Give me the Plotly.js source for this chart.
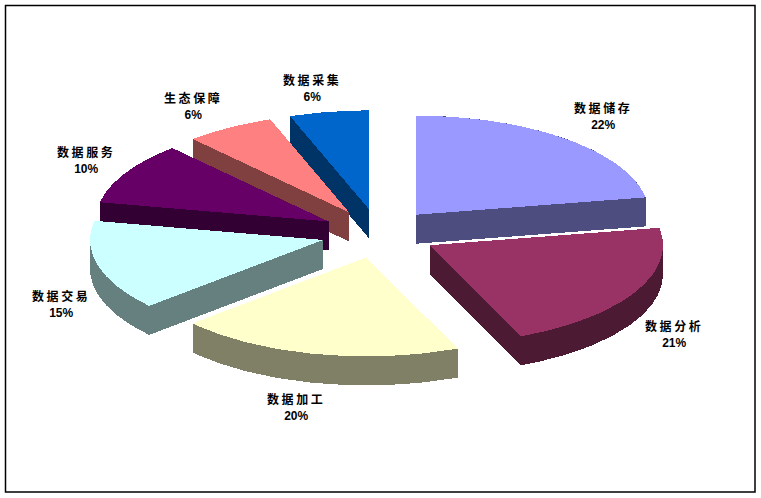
<!DOCTYPE html>
<html>
<head>
<meta charset="utf-8">
<script src="https://cdn.plot.ly/plotly-3.0.1.min.js"></script>
<style>
html,body{margin:0;padding:0;background:#fff}
#chart{width:761px;height:498px}
.annotation-text tspan.line:first-child{letter-spacing:2.6px}
.scatterlayer .js-fill{shape-rendering:crispEdges}
</style>
</head>
<body>
<div id="chart"></div>
<script>
// Data
const categories = ['数据储存','数据分析','数据加工','数据交易','数据服务','生态保障','数据采集'];
const shares     = [22.2, 21.4, 19.8, 14.7, 10.2, 6.2, 5.5];
const topColors  = ['#9999FF','#993366','#FFFFCC','#CCFFFF','#660066','#FF8080','#0066CC'];
const sideColors = ['#4D4D80','#4D1A33','#808066','#668080','#330033','#804040','#003366'];
const labelX     = [602.5, 673.5, 295.5, 60.5, 85.5, 192.5, 311.5];
const labelY     = [116, 334, 407, 304, 160, 106, 88];
const drawOrder  = [6, 0, 5, 4, 3, 1, 2];

// Projection of the tilted pie
const CX = 379, CY = 233.5, RX = 233, RY = 99, DEPTH = 29, PULL_X = 58, PULL_Y = 24.5;

const total = shares.reduce((a, b) => a + b, 0);
function wedge(i) {
  const before = shares.slice(0, i).reduce((a, b) => a + b, 0);
  const a0 = before / total * 2 * Math.PI;
  const a1 = (before + shares[i]) / total * 2 * Math.PI;
  const mid = (a0 + a1) / 2;
  const ax = CX + PULL_X * Math.sin(mid), ay = CY - PULL_Y * Math.cos(mid);
  const pts = [[ax, ay]];
  const n = 48;
  for (let k = 0; k <= n; k++) {
    const t = a0 + (a1 - a0) * k / n;
    pts.push([ax + RX * Math.sin(t), ay - RY * Math.cos(t)]);
  }
  return pts;
}
function hull(points) {
  const p = points.slice().sort((a, b) => a[0] - b[0] || a[1] - b[1]);
  const cross = (o, a, b) => (a[0]-o[0])*(b[1]-o[1]) - (a[1]-o[1])*(b[0]-o[0]);
  const half = list => {
    const h = [];
    for (const q of list) {
      while (h.length >= 2 && cross(h[h.length-2], h[h.length-1], q) <= 0) h.pop();
      h.push(q);
    }
    h.pop();
    return h;
  };
  return half(p).concat(half(p.slice().reverse()));
}
function poly(points, color, name) {
  const closed = points.concat([points[0]]);
  return {
    type: 'scatter', mode: 'lines', name,
    x: closed.map(q => q[0]), y: closed.map(q => q[1]),
    fill: 'toself', fillcolor: color, line: {width: 0, color},
    hoverinfo: 'name', showlegend: false
  };
}
const traces = [];
drawOrder.forEach(i => {
  const top = wedge(i);
  const low = top.map(q => [q[0], q[1] + DEPTH]);
  traces.push(poly(hull(top.concat(low)), sideColors[i], categories[i]));
  traces.push(poly(top, topColors[i], categories[i]));
});

const annotations = categories.map((c, i) => ({
  x: labelX[i], y: labelY[i], xref: 'x', yref: 'y', showarrow: false,
  text: c + '<br>' + Math.round(shares[i]) + '%',
  align: 'center', xanchor: 'center', yanchor: 'middle',
  font: {family: '"Liberation Sans","Noto Sans CJK SC",sans-serif', size: 12, color: '#000', weight: 700}
}));

Plotly.newPlot('chart', traces, {
  width: 761, height: 498,
  margin: {l: 0, r: 0, t: 0, b: 0},
  paper_bgcolor: '#fff', plot_bgcolor: '#fff',
  showlegend: false,
  xaxis: {range: [0, 761], visible: false, fixedrange: true},
  yaxis: {range: [498, 0], visible: false, fixedrange: true},
  annotations,
  shapes: [{type: 'rect', xref: 'x', yref: 'y', x0: 5.5, y0: 5.5, x1: 755, y1: 492,
            line: {color: '#000', width: 1.5}, fillcolor: 'rgba(0,0,0,0)', layer: 'above'}]
}, {displayModeBar: false, staticPlot: true});
</script>
</body>
</html>
